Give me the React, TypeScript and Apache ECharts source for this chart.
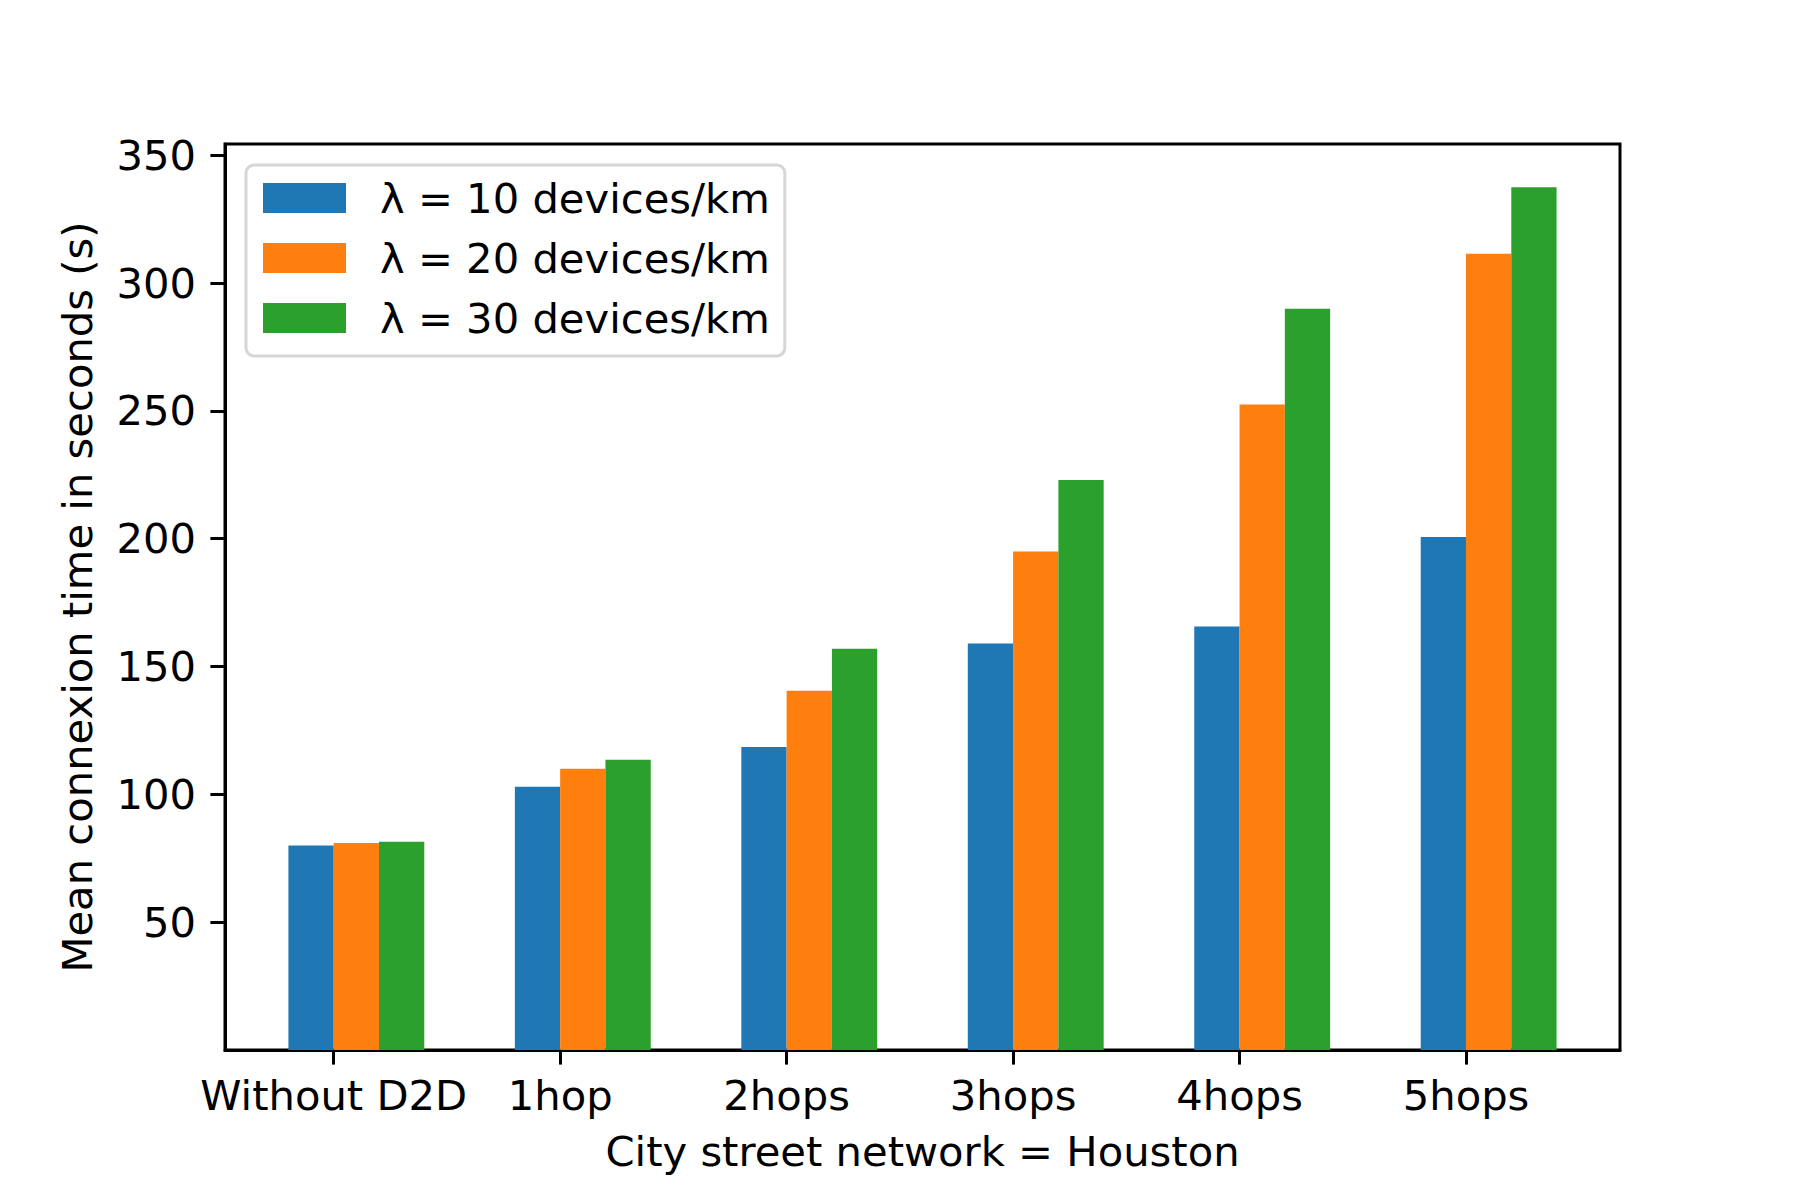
import React, { useEffect, useRef } from "react";
import * as echarts from "echarts";

const categories = ["Without D2D", "1hop", "2hops", "3hops", "4hops", "5hops"];
const seriesNames = ["λ = 10 devices/km", "λ = 20 devices/km", "λ = 30 devices/km"];
const lambda10 = [80, 103, 118.5, 159, 165.7, 200.7];
const lambda20 = [81, 110, 140.5, 195, 252.5, 311.5];
const lambda30 = [81.5, 113.5, 157, 223, 290, 337.5];
const yTicks = [50, 100, 150, 200, 250, 300, 350];
const colors = ["#1f77b4", "#ff7f0e", "#2ca02c"];
const barOffsets = [-0.2, 0, 0.2];
const barWidth = 0.2;

const FONT = "DejaVu Sans";
const FS = 41.7;

export default function App() {
  const ref = useRef<HTMLDivElement>(null);
  useEffect(() => {
    document.body.style.margin = "0";
    const chart = echarts.init(ref.current!, null, { renderer: "svg" });
    const allSeries = [lambda10, lambda20, lambda30];
    const option: any = {
      animation: false,
      backgroundColor: "#ffffff",
      textStyle: { fontFamily: FONT, color: "#000" },
      grid: {
        left: 225,
        top: 144,
        width: 1395,
        height: 906,
        show: true,
        borderColor: "#000",
        borderWidth: 3,
        backgroundColor: "transparent",
      },
      legend: {
        orient: "vertical",
        left: 246,
        top: 165,
        padding: [12, 15, 17, 17],
        itemWidth: 83,
        itemHeight: 30,
        itemGap: 18,
        borderColor: "#d6d6d6",
        borderWidth: 3,
        borderRadius: 8,
        backgroundColor: "rgba(255,255,255,0.8)",
        icon: "rect",
        textStyle: {
          fontFamily: FONT,
          fontSize: FS,
          color: "#000",
          padding: [0, 0, 0, 29],
        },
        data: seriesNames.map((n, i) => ({ name: n, itemStyle: { color: colors[i] } })),
      },
      xAxis: {
        type: "value",
        min: -0.48,
        max: 5.68,
        name: "City street network = Houston",
        nameLocation: "middle",
        nameGap: 80,
        nameTextStyle: { fontFamily: FONT, fontSize: FS, color: "#000" },
        axisLine: { show: true, onZero: false, lineStyle: { color: "#000", width: 3 } },
        axisTick: {
          show: true,
          length: 14.6,
          lineStyle: { color: "#000", width: 3 },
          customValues: categories.map((_, i) => i),
        },
        axisLabel: {
          fontFamily: FONT,
          fontSize: FS,
          color: "#000",
          margin: 24,
          customValues: categories.map((_, i) => i),
          formatter: (v: number) => categories[Math.round(v)] ?? "",
        },
        splitLine: { show: false },
      },
      yAxis: {
        type: "value",
        min: 0,
        max: 354.4,
        name: "Mean connexion time in seconds (s)",
        nameLocation: "middle",
        nameRotate: 90,
        nameGap: 127,
        nameTextStyle: { fontFamily: FONT, fontSize: FS, color: "#000" },
        axisLine: { show: true, onZero: false, lineStyle: { color: "#000", width: 3 } },
        axisTick: {
          show: true,
          length: 14.6,
          lineStyle: { color: "#000", width: 3 },
          customValues: yTicks,
        },
        axisLabel: {
          fontFamily: FONT,
          fontSize: FS,
          color: "#000",
          margin: 29,
          customValues: yTicks,
        },
        splitLine: { show: false },
      },
      series: allSeries.map((vals, si) => ({
        type: "custom",
        name: seriesNames[si],
        itemStyle: { color: colors[si] },
        data: vals.map((v, i) => [i, v]),
        encode: { x: 0, y: 1 },
        renderItem: (params: any, api: any) => {
          const xi = api.value(0);
          const v = api.value(1);
          const p0 = api.coord([xi + barOffsets[si], v]);
          const p1 = api.coord([xi + barOffsets[si] + barWidth, 0]);
          return {
            type: "rect",
            shape: { x: p0[0], y: p0[1], width: p1[0] - p0[0], height: p1[1] - p0[1] },
            style: { fill: colors[si] },
          };
        },
        z: 1,
      })),
    };
    chart.setOption(option);
    return () => chart.dispose();
  }, []);
  return <div ref={ref} style={{ width: 1800, height: 1200 }} />;
}
